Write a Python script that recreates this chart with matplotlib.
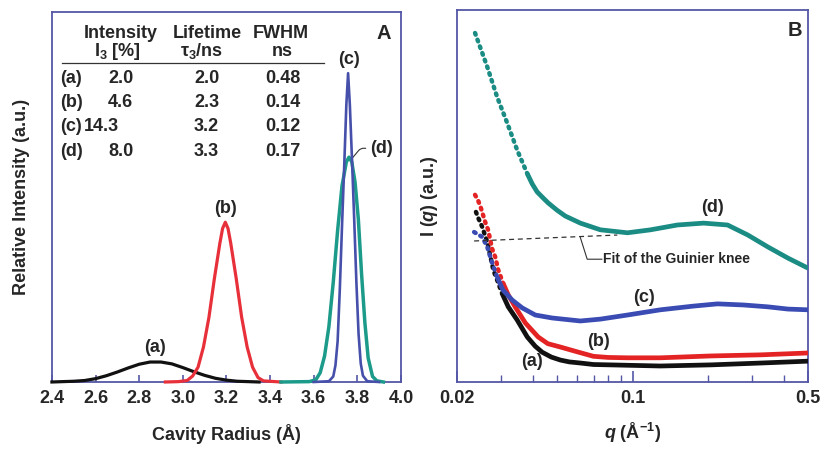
import numpy as np
import matplotlib
matplotlib.use('Agg')
import matplotlib.pyplot as plt

plt.rcParams['font.family'] = ['Liberation Sans', 'DejaVu Sans']
plt.rcParams['font.weight'] = 'bold'
plt.rcParams['axes.labelweight'] = 'bold'
plt.rcParams['mathtext.fontset'] = 'custom'
plt.rcParams['mathtext.rm'] = 'Liberation Sans:bold'
plt.rcParams['mathtext.it'] = 'Liberation Sans:bold:italic'
plt.rcParams['mathtext.bf'] = 'Liberation Sans:bold'

# Panel A: cavity radius distributions
r_a = [2.40, 2.45, 2.50, 2.55, 2.60, 2.65, 2.70, 2.75, 2.80, 2.85, 2.90, 2.95,
       3.00, 3.05, 3.10, 3.15, 3.20, 3.25, 3.30, 3.35]
i_a = [0.000, 0.001, 0.002, 0.004, 0.009, 0.017, 0.027, 0.038, 0.048, 0.054, 0.054, 0.049,
       0.039, 0.028, 0.018, 0.010, 0.005, 0.002, 0.001, 0.000]
r_b = [2.92, 2.98, 3.02, 3.045, 3.07, 3.095, 3.12, 3.145, 3.17, 3.1825, 3.195, 3.2075,
       3.22, 3.245, 3.27, 3.295, 3.32, 3.345, 3.37, 3.45]
i_b = [0.0, 0.001, 0.004, 0.016, 0.040, 0.095, 0.175, 0.280, 0.375, 0.415, 0.432, 0.415,
       0.375, 0.280, 0.175, 0.095, 0.040, 0.012, 0.003, 0.0]
r_c = [3.60, 3.67, 3.69, 3.70, 3.71, 3.72, 3.73, 3.74, 3.75, 3.758, 3.766, 3.776,
       3.786, 3.796, 3.806, 3.816, 3.826, 3.846, 3.90]
i_c = [0.0, 0.002, 0.015, 0.045, 0.11, 0.25, 0.42, 0.58, 0.75, 0.835, 0.75, 0.60,
       0.44, 0.27, 0.13, 0.05, 0.017, 0.002, 0.0]
r_d = [3.45, 3.58, 3.61, 3.63, 3.65, 3.67, 3.69, 3.71, 3.73, 3.75, 3.762, 3.775,
       3.79, 3.805, 3.82, 3.835, 3.85, 3.87, 3.89, 3.92]
i_d = [0.0, 0.001, 0.006, 0.025, 0.07, 0.15, 0.27, 0.41, 0.53, 0.595, 0.608, 0.595,
       0.54, 0.44, 0.29, 0.16, 0.065, 0.015, 0.003, 0.0]

a_ticks = [2.4, 2.6, 2.8, 3.0, 3.2, 3.4, 3.6, 3.8, 4.0]

# table in panel A
tab_labels = ['(a)', '(b)', '(c)', '(d)']
tab_int = ['2.0', '4.6', '14.3', '8.0']
tab_life = ['2.0', '2.3', '3.2', '3.3']
tab_fwhm = ['0.48', '0.14', '0.12', '0.17']

# Panel B: SAXS curves I(q)
q_a = [0.0238, 0.0243, 0.0252, 0.0264, 0.0271, 0.0279, 0.0289, 0.0302, 0.0320, 0.0347,
       0.0381, 0.0410, 0.0437, 0.0475, 0.0516, 0.0560, 0.0620, 0.0699, 0.129, 0.205,
       0.325, 0.500]
s_a = [4.57, 4.41, 4.17, 3.76, 3.41, 3.01, 2.74, 2.39, 2.02, 1.67,
       1.21, 0.96, 0.80, 0.67, 0.59, 0.54, 0.51, 0.47, 0.43, 0.46,
       0.51, 0.56]
q_b = [0.0236, 0.0243, 0.0249, 0.0259, 0.0266, 0.0276, 0.0284, 0.0292, 0.0305, 0.0320,
       0.0341, 0.0374, 0.0421, 0.0460, 0.0516, 0.0603, 0.0699, 0.0800, 0.0955, 0.129,
       0.205, 0.325, 0.500]
s_b = [5.03, 4.87, 4.68, 4.30, 4.09, 3.58, 3.36, 3.01, 2.66, 2.34,
       2.02, 1.59, 1.21, 1.03, 0.94, 0.81, 0.69, 0.66, 0.65, 0.65,
       0.70, 0.73, 0.78]
q_c = [0.0234, 0.0252, 0.0264, 0.0276, 0.0289, 0.0305, 0.0332, 0.0364, 0.0410, 0.0479,
       0.0620, 0.0745, 0.0955, 0.129, 0.175, 0.218, 0.277, 0.346, 0.416, 0.500]
s_c = [4.03, 3.90, 3.63, 3.20, 2.82, 2.47, 2.20, 1.99, 1.80, 1.72,
       1.64, 1.69, 1.80, 1.94, 2.04, 2.10, 2.07, 2.02, 1.96, 1.94]
q_d = [0.0236, 0.0264, 0.0289, 0.0317, 0.0347, 0.0381, 0.0399, 0.0417, 0.0440, 0.0462,
       0.0500, 0.0540, 0.0620, 0.0745, 0.0955, 0.118, 0.151, 0.192, 0.239, 0.288,
       0.346, 0.416, 0.500]
s_d = [9.38, 8.47, 7.66, 6.96, 6.24, 5.60, 5.32, 5.11, 4.95, 4.81,
       4.62, 4.46, 4.27, 4.09, 4.01, 4.09, 4.22, 4.27, 4.22, 3.95,
       3.63, 3.33, 3.06]
fit_q = [0.0234, 0.087]
fit_s = [3.79, 3.95]

b_ticks = [0.02, 0.1, 0.5]
b_minor = [0.03, 0.04, 0.05, 0.06, 0.07, 0.08, 0.09, 0.2, 0.3, 0.4]

spine_col = '#5457a6'
txt_col = '#262626'
fs = 13

fig = plt.figure(figsize=(8.24, 4.51), dpi=100)
axA = fig.add_axes([0.063, 0.153, 0.4235, 0.820])
axB = fig.add_axes([0.5546, 0.153, 0.4260, 0.825])

for ax in (axA, axB):
    for sp in ax.spines.values():
        sp.set_color(spine_col)
        sp.set_linewidth(1.3)
    ax.set_yticks([])

# ---- panel A
axA.plot(r_a, i_a, color='#111111', lw=2.3, clip_on=False, zorder=3)
axA.plot(r_b, i_b, color='#e8303a', lw=2.3, clip_on=False, zorder=3)
axA.plot(r_d, i_d, color='#1c9a8a', lw=2.5, clip_on=False, zorder=3)
axA.plot(r_c, i_c, color='#4650aa', lw=1.9, clip_on=False, zorder=4)
axA.set_xlim(2.4, 4.0)
axA.set_ylim(0, 1)
axA.set_xticks(a_ticks)
axA.set_xticklabels([f'{t:.1f}' for t in a_ticks])
axA.tick_params(axis='x', direction='in', length=5, width=1.2, color=spine_col,
                labelsize=fs, labelcolor=txt_col, pad=6)
axA.set_xlabel('Cavity Radius (Å)', fontsize=fs, color=txt_col, labelpad=12)
axA.set_ylabel('Relative Intensity (a.u.)', fontsize=fs, color=txt_col, labelpad=16)

axA.text(2.874, 0.092, '(a)', fontsize=fs, color=txt_col, ha='center', va='center')
axA.text(3.195, 0.468, '(b)', fontsize=fs, color=txt_col, ha='center', va='center')
axA.text(3.761, 0.872, '(c)', fontsize=fs, color=txt_col, ha='center', va='center')
axA.annotate('(d)', xy=(3.778, 0.606), xytext=(3.91, 0.632), fontsize=fs, color=txt_col,
             ha='center', va='center',
             arrowprops=dict(arrowstyle='-', color='#333333', lw=0.8,
                             connectionstyle='angle,angleA=0,angleB=50,rad=3',
                             shrinkA=1, shrinkB=0))
axA.text(0.951, 0.943, 'A', transform=axA.transAxes, fontsize=14.5, color=txt_col,
         ha='center', va='center')

# table
hdr1 = ['Intensity', 'Lifetime', 'FWHM']
hdr2 = ['I$_3$ [%]', 'τ$_3$/ns', 'ns']
hx1 = [0.198, 0.445, 0.655]
hx2 = [0.187, 0.428, 0.661]
for s, x in zip(hdr1, hx1):
    axA.text(x, 0.943, s, transform=axA.transAxes, fontsize=fs, color=txt_col,
             ha='center', va='center')
for s, x in zip(hdr2, hx2):
    axA.text(x, 0.895, s, transform=axA.transAxes, fontsize=fs, color=txt_col,
             ha='center', va='center')
axA.plot([0.029, 0.779], [0.862, 0.862], transform=axA.transAxes, color='#333333', lw=0.9)
row_y = [0.822, 0.756, 0.690, 0.624]
int_x = [0.233, 0.233, 0.192, 0.233]
for k in range(4):
    axA.text(0.023, row_y[k], tab_labels[k], transform=axA.transAxes, fontsize=fs,
             color=txt_col, ha='left', va='center')
    axA.text(int_x[k], row_y[k], tab_int[k], transform=axA.transAxes, fontsize=fs,
             color=txt_col, ha='right', va='center')
    axA.text(0.443, row_y[k], tab_life[k], transform=axA.transAxes, fontsize=fs,
             color=txt_col, ha='center', va='center')
    axA.text(0.661, row_y[k], tab_fwhm[k], transform=axA.transAxes, fontsize=fs,
             color=txt_col, ha='center', va='center')

# ---- panel B
curves = [(q_a, s_a, '#111111', 0.029), (q_b, s_b, '#e42424', 0.030),
          (q_c, s_c, '#3a4cb4', 0.0285), (q_d, s_d, '#1a8c84', 0.036)]
for q, s, col, qsplit in curves:
    q = np.array(q)
    s = np.array(s)
    k = np.searchsorted(q, qsplit)
    axB.plot(q[:k + 1], s[:k + 1], color=col, lw=3.2, ls=(0, (0.4, 1.2)),
             dash_capstyle='round', zorder=3)
    axB.plot(q[k:], s[k:], color=col, lw=3.4, solid_capstyle='butt',
             solid_joinstyle='round', zorder=3)

axB.plot(fit_q, fit_s, color='#333333', lw=0.9, ls=(0, (4, 3)), zorder=4)
axB.plot([0.062, 0.066, 0.0755], [3.88, 3.30, 3.30], color='#333333', lw=0.8, zorder=4)
axB.text(0.0765, 3.30, 'Fit of the Guinier knee', fontsize=10, color=txt_col,
         ha='left', va='center')

axB.set_xscale('log')
axB.set_xlim(0.02, 0.5)
axB.set_ylim(0, 10)
axB.set_xticks(b_ticks)
axB.set_xticklabels(['0.02', '0.1', '0.5'])
axB.set_xticks(b_minor, minor=True)
axB.set_xticklabels([], minor=True)
axB.tick_params(axis='x', which='major', direction='in', length=8, width=1.2,
                color=spine_col, labelsize=fs, labelcolor=txt_col, pad=6)
axB.tick_params(axis='x', which='minor', direction='in', length=5, width=1.0,
                color=spine_col)
axB.set_xlabel('$q$ (Å$^{-1}$)', fontsize=fs, color=txt_col, labelpad=10)
axB.set_ylabel('I ($q$) (a.u.)', fontsize=fs, color=txt_col, labelpad=12)

axB.text(0.209, 4.68, '(d)', fontsize=fs, color=txt_col, ha='center', va='center')
axB.text(0.111, 2.26, '(c)', fontsize=fs, color=txt_col, ha='center', va='center')
axB.text(0.073, 1.08, '(b)', fontsize=fs, color=txt_col, ha='center', va='center')
axB.text(0.0399, 0.54, '(a)', fontsize=fs, color=txt_col, ha='center', va='center')
axB.text(0.963, 0.946, 'B', transform=axB.transAxes, fontsize=14.5, color=txt_col,
         ha='center', va='center')

fig.savefig('out.png', dpi=100)
